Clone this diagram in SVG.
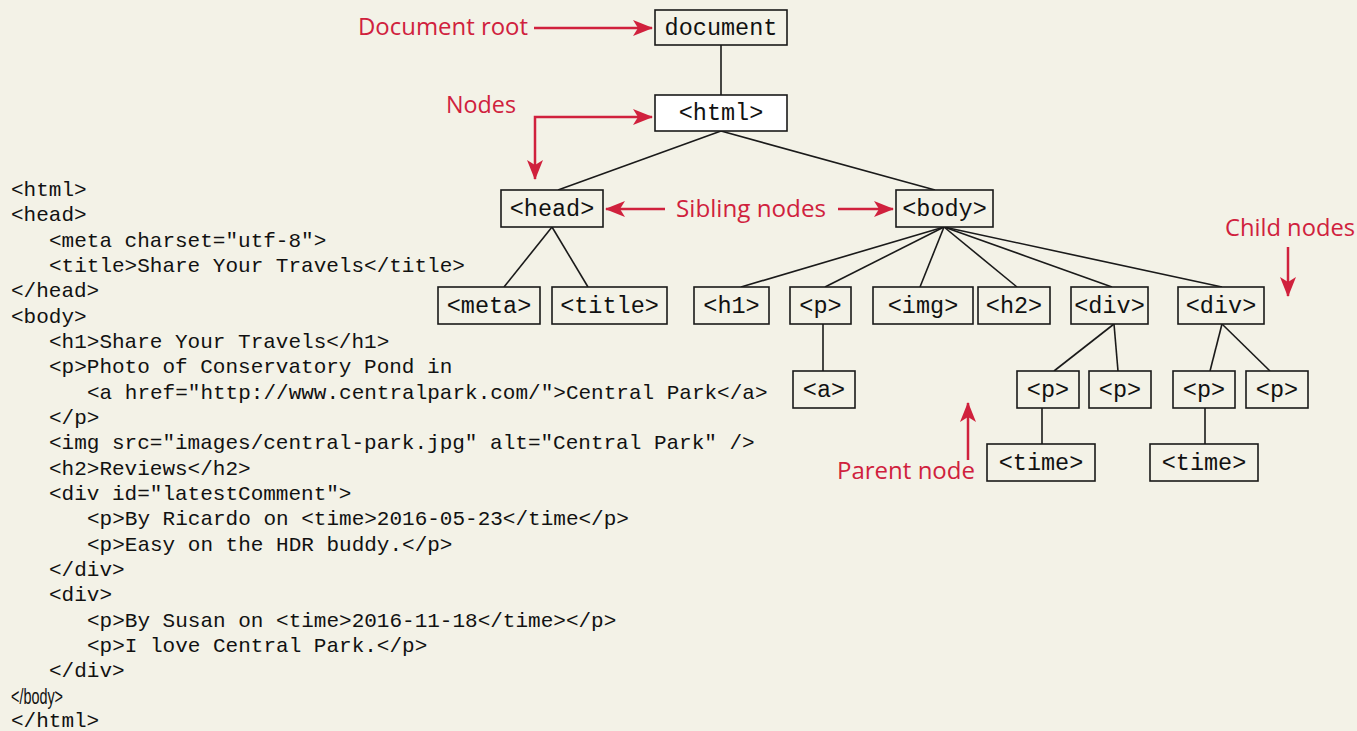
<svg xmlns="http://www.w3.org/2000/svg" width="1357" height="731" viewBox="0 0 1357 731">
<defs>
<style>
.bg{fill:#f3f2e7}
.box{fill:#f3f2e7;stroke:#1a1a1a;stroke-width:1.6}
.wbox{fill:#ffffff;stroke:#1a1a1a;stroke-width:1.6}
.nt{font-family:"Liberation Mono","DejaVu Sans Mono",monospace;font-size:23.5px;fill:#111;text-anchor:middle}
.code{font-family:"Liberation Mono","DejaVu Sans Mono",monospace;font-size:21px;fill:#111}
.sans{font-family:"Liberation Sans","Arial",sans-serif;font-size:22px;fill:#111}
.lab{font-family:"Open Sans","Noto Sans",sans-serif;font-size:23px;fill:#d0213d}
.ln{stroke:#1a1a1a;stroke-width:1.6;fill:none}
.ra{stroke:#d0213d;stroke-width:2.5;fill:none}
</style>
<marker id="ah" viewBox="0 0 20 16" refX="19" refY="8" markerWidth="20" markerHeight="16" markerUnits="userSpaceOnUse" orient="auto-start-reverse">
<path d="M0,0 L20,8 L0,16 L5,8 Z" fill="#d0213d"/>
</marker>
</defs>
<rect class="bg" x="0" y="0" width="1357" height="731"/>

<g id="connectors">
<line class="ln" x1="721" y1="45" x2="721" y2="95"/>
<line class="ln" x1="721" y1="131" x2="558" y2="190"/>
<line class="ln" x1="721" y1="131" x2="935" y2="190"/>
<line class="ln" x1="552" y1="227" x2="504" y2="287"/>
<line class="ln" x1="552" y1="227" x2="588" y2="287"/>
<line class="ln" x1="944" y1="227" x2="741" y2="287"/>
<line class="ln" x1="944" y1="227" x2="825" y2="287"/>
<line class="ln" x1="944" y1="227" x2="920" y2="287"/>
<line class="ln" x1="944" y1="227" x2="1017" y2="287"/>
<line class="ln" x1="944" y1="227" x2="1112" y2="287"/>
<line class="ln" x1="944" y1="227" x2="1222" y2="287"/>
<line class="ln" x1="823" y1="324" x2="823" y2="371"/>
<line class="ln" x1="1114" y1="324" x2="1054" y2="371"/>
<line class="ln" x1="1114" y1="324" x2="1118" y2="371"/>
<line class="ln" x1="1222" y1="324" x2="1210" y2="371"/>
<line class="ln" x1="1222" y1="324" x2="1270" y2="371"/>
<line class="ln" x1="1042" y1="408" x2="1042" y2="444"/>
<line class="ln" x1="1205" y1="408" x2="1205" y2="444"/>
</g>

<g id="node-document"><rect class="box" x="655" y="10" width="132" height="35"/><text class="nt" x="721" y="35">document</text></g>
<g id="node-html"><rect class="wbox" x="655" y="95" width="132" height="36"/><text class="nt" x="721" y="120">&lt;html&gt;</text></g>
<g id="node-head"><rect class="box" x="501" y="190" width="102" height="37"/><text class="nt" x="552" y="216">&lt;head&gt;</text></g>
<g id="node-body"><rect class="box" x="896" y="190" width="97" height="37"/><text class="nt" x="944.5" y="216">&lt;body&gt;</text></g>
<g id="node-meta"><rect class="box" x="438" y="287" width="102" height="37"/><text class="nt" x="489" y="313">&lt;meta&gt;</text></g>
<g id="node-title"><rect class="box" x="552" y="287" width="115" height="37"/><text class="nt" x="609.5" y="313">&lt;title&gt;</text></g>
<g id="node-h1"><rect class="box" x="694" y="287" width="75" height="37"/><text class="nt" x="731.5" y="313">&lt;h1&gt;</text></g>
<g id="node-p"><rect class="box" x="790" y="287" width="61" height="37"/><text class="nt" x="820.5" y="313">&lt;p&gt;</text></g>
<g id="node-img"><rect class="box" x="873" y="287" width="100" height="37"/><text class="nt" x="923" y="313">&lt;img&gt;</text></g>
<g id="node-h2"><rect class="box" x="978" y="287" width="72" height="37"/><text class="nt" x="1014" y="313">&lt;h2&gt;</text></g>
<g id="node-div1"><rect class="box" x="1071" y="287" width="77" height="37"/><text class="nt" x="1109.5" y="313">&lt;div&gt;</text></g>
<g id="node-div2"><rect class="box" x="1178" y="287" width="86" height="37"/><text class="nt" x="1221" y="313">&lt;div&gt;</text></g>
<g id="node-a"><rect class="box" x="793" y="371" width="62" height="37"/><text class="nt" x="824" y="397">&lt;a&gt;</text></g>
<g id="node-p1"><rect class="box" x="1017" y="371" width="62" height="37"/><text class="nt" x="1048" y="397">&lt;p&gt;</text></g>
<g id="node-p2"><rect class="box" x="1089" y="371" width="62" height="37"/><text class="nt" x="1120" y="397">&lt;p&gt;</text></g>
<g id="node-p3"><rect class="box" x="1173" y="371" width="62" height="37"/><text class="nt" x="1204" y="397">&lt;p&gt;</text></g>
<g id="node-p4"><rect class="box" x="1246" y="371" width="62" height="37"/><text class="nt" x="1277" y="397">&lt;p&gt;</text></g>
<g id="node-time1"><rect class="box" x="987" y="444" width="108" height="37"/><text class="nt" x="1041" y="470">&lt;time&gt;</text></g>
<g id="node-time2"><rect class="box" x="1150" y="444" width="108" height="37"/><text class="nt" x="1204" y="470">&lt;time&gt;</text></g>

<g id="annotations">
<text class="lab" x="358" y="35" textLength="170" lengthAdjust="spacingAndGlyphs">Document root</text>
<line class="ra" x1="534" y1="28" x2="652" y2="28" marker-end="url(#ah)"/>
<text class="lab" x="446" y="113" textLength="70" lengthAdjust="spacingAndGlyphs">Nodes</text>
<path class="ra" d="M535,179 L535,117 L652,117" marker-start="url(#ah)" marker-end="url(#ah)"/>
<text class="lab" x="676" y="217" textLength="150" lengthAdjust="spacingAndGlyphs">Sibling nodes</text>
<line class="ra" x1="665" y1="209" x2="606" y2="209" marker-end="url(#ah)"/>
<line class="ra" x1="838" y1="209" x2="893" y2="209" marker-end="url(#ah)"/>
<text class="lab" x="1225" y="236" textLength="130" lengthAdjust="spacingAndGlyphs">Child nodes</text>
<line class="ra" x1="1288" y1="247" x2="1288" y2="296" marker-end="url(#ah)"/>
<text class="lab" x="837" y="479" textLength="138" lengthAdjust="spacingAndGlyphs">Parent node</text>
<line class="ra" x1="968" y1="460" x2="968" y2="403" marker-end="url(#ah)"/>
</g>

<g id="code">
<text class="code" x="11" y="196">&lt;html&gt;</text>
<text class="code" x="11" y="221">&lt;head&gt;</text>
<text class="code" x="49" y="247">&lt;meta charset="utf-8"&gt;</text>
<text class="code" x="49" y="272">&lt;title&gt;Share Your Travels&lt;/title&gt;</text>
<text class="code" x="11" y="297">&lt;/head&gt;</text>
<text class="code" x="11" y="323">&lt;body&gt;</text>
<text class="code" x="49" y="348">&lt;h1&gt;Share Your Travels&lt;/h1&gt;</text>
<text class="code" x="49" y="373">&lt;p&gt;Photo of Conservatory Pond in</text>
<text class="code" x="87" y="399">&lt;a href="http://www.centralpark.com/"&gt;Central Park&lt;/a&gt;</text>
<text class="code" x="49" y="424">&lt;/p&gt;</text>
<text class="code" x="49" y="449">&lt;img src="images/central-park.jpg" alt="Central Park" /&gt;</text>
<text class="code" x="49" y="475">&lt;h2&gt;Reviews&lt;/h2&gt;</text>
<text class="code" x="49" y="500">&lt;div id="latestComment"&gt;</text>
<text class="code" x="87" y="525">&lt;p&gt;By Ricardo on &lt;time&gt;2016-05-23&lt;/time&lt;/p&gt;</text>
<text class="code" x="87" y="551">&lt;p&gt;Easy on the HDR buddy.&lt;/p&gt;</text>
<text class="code" x="49" y="576">&lt;/div&gt;</text>
<text class="code" x="49" y="601">&lt;div&gt;</text>
<text class="code" x="87" y="627">&lt;p&gt;By Susan on &lt;time&gt;2016-11-18&lt;/time&gt;&lt;/p&gt;</text>
<text class="code" x="87" y="652">&lt;p&gt;I love Central Park.&lt;/p&gt;</text>
<text class="code" x="49" y="677">&lt;/div&gt;</text>
<text class="sans" x="11" y="704" textLength="52" lengthAdjust="spacingAndGlyphs">&lt;/body&gt;</text>
<text class="code" x="11" y="727">&lt;/html&gt;</text>
</g>
</svg>
